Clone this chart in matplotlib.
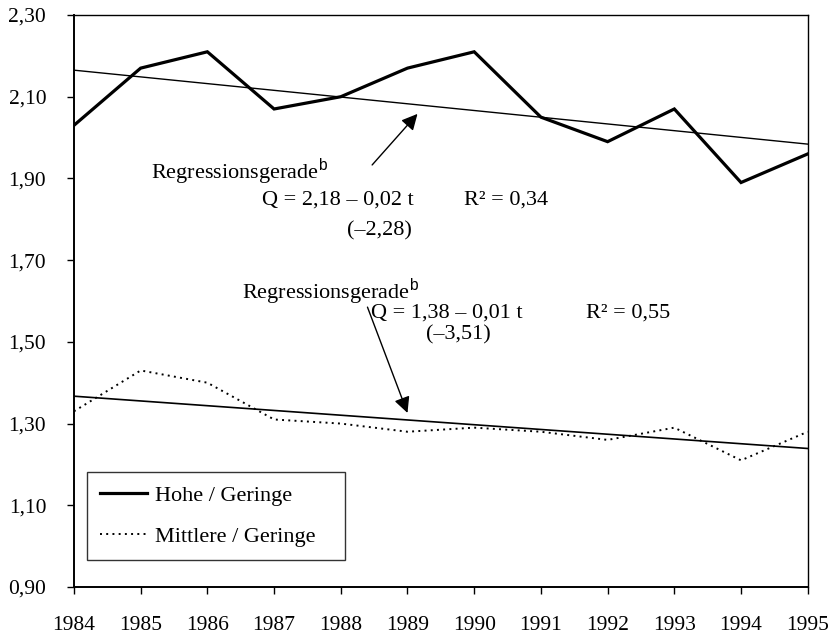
import matplotlib
matplotlib.use("Agg")
import matplotlib.pyplot as plt
from matplotlib.ticker import FuncFormatter

plt.rcParams['font.family'] = ['Liberation Serif', 'DejaVu Serif']
plt.rcParams['mathtext.fontset'] = 'custom'
plt.rcParams['mathtext.rm'] = 'Liberation Sans'

# Jahre und Quotienten
jahre = [1984, 1985, 1986, 1987, 1988, 1989, 1990, 1991, 1992, 1993, 1994, 1995]
hohe_geringe = [2.03, 2.17, 2.21, 2.07, 2.10, 2.17, 2.21, 2.05, 1.99, 2.07, 1.89, 1.96]
mittlere_geringe = [1.33, 1.43, 1.40, 1.31, 1.30, 1.28, 1.29, 1.28, 1.26, 1.29, 1.21, 1.28]

# Regressionsgeraden (Endpunkte 1984 / 1995)
reg_hohe = [2.165, 1.984]
reg_mittlere = [1.367, 1.239]
reg_x = [1984, 1995]

yticks = [0.9, 1.1, 1.3, 1.5, 1.7, 1.9, 2.1, 2.3]

fig = plt.figure(figsize=(8.31, 6.39), dpi=100)
ax = fig.add_axes([0.089, 0.0814, 0.883, 0.8951])

ax.plot(jahre, hohe_geringe, color='black', linewidth=2.3, label='Hohe / Geringe',
        solid_joinstyle='miter')
ax.plot(jahre, mittlere_geringe, color='black', linewidth=1.4, linestyle=(0, (1, 2.2)),
        label='Mittlere / Geringe')
ax.plot(reg_x, reg_hohe, color='black', linewidth=1.0)
ax.plot(reg_x, reg_mittlere, color='black', linewidth=1.2)

ax.set_xlim(1984, 1995)
ax.set_ylim(0.9, 2.3)
ax.set_xticks(jahre)
ax.set_yticks(yticks)
ax.yaxis.set_major_formatter(FuncFormatter(lambda v, p: f"{v:.2f}".replace('.', ',')))
ax.tick_params(direction='out', length=5, width=1, labelsize=15.5, color='black')
ax.tick_params(axis='x', pad=16)
ax.tick_params(axis='y', pad=15)
for side in ['left', 'bottom']:
    ax.spines[side].set_linewidth(1.4)
for side in ['top', 'right']:
    ax.spines[side].set_linewidth(1.0)

fs = 16
# obere Regressionsgerade
ax.text(1985.16, 1.916, 'Regressionsgerade$^{\\mathrm{b}}$', fontsize=fs, va='center')
ax.text(1986.82, 1.847, 'Q = 2,18 – 0,02 t', fontsize=fs, va='center')
ax.text(1989.85, 1.847, 'R² = 0,34', fontsize=fs, va='center')
ax.text(1988.10, 1.772, '(–2,28)', fontsize=fs, va='center')
ax.annotate('', xy=(1989.15, 2.058), xytext=(1988.47, 1.933),
            arrowprops=dict(arrowstyle='-|>', color='black', lw=1.0,
                            mutation_scale=24, shrinkA=0, shrinkB=0))

# untere Regressionsgerade
ax.text(1986.52, 1.622, 'Regressionsgerade$^{\\mathrm{b}}$', fontsize=fs, va='center')
ax.text(1988.46, 1.571, 'Q = 1,38 – 0,01 t', fontsize=fs, va='center')
ax.text(1991.68, 1.571, 'R² = 0,55', fontsize=fs, va='center')
ax.text(1989.28, 1.517, '(–3,51)', fontsize=fs, va='center')
ax.annotate('', xy=(1989.0, 1.326), xytext=(1988.40, 1.585),
            arrowprops=dict(arrowstyle='-|>', color='black', lw=1.0,
                            mutation_scale=24, shrinkA=0, shrinkB=0))

leg = ax.legend(loc='lower left', bbox_to_anchor=(0.0177, 0.0472, 0.3515, 0.15),
                mode='expand', fontsize=fs, frameon=True, fancybox=False,
                edgecolor='black', handlelength=2.1, handletextpad=0.35,
                borderpad=0.6, labelspacing=0.9, borderaxespad=0)
leg.get_frame().set_linewidth(1.0)

fig.savefig('out.png', dpi=100)
